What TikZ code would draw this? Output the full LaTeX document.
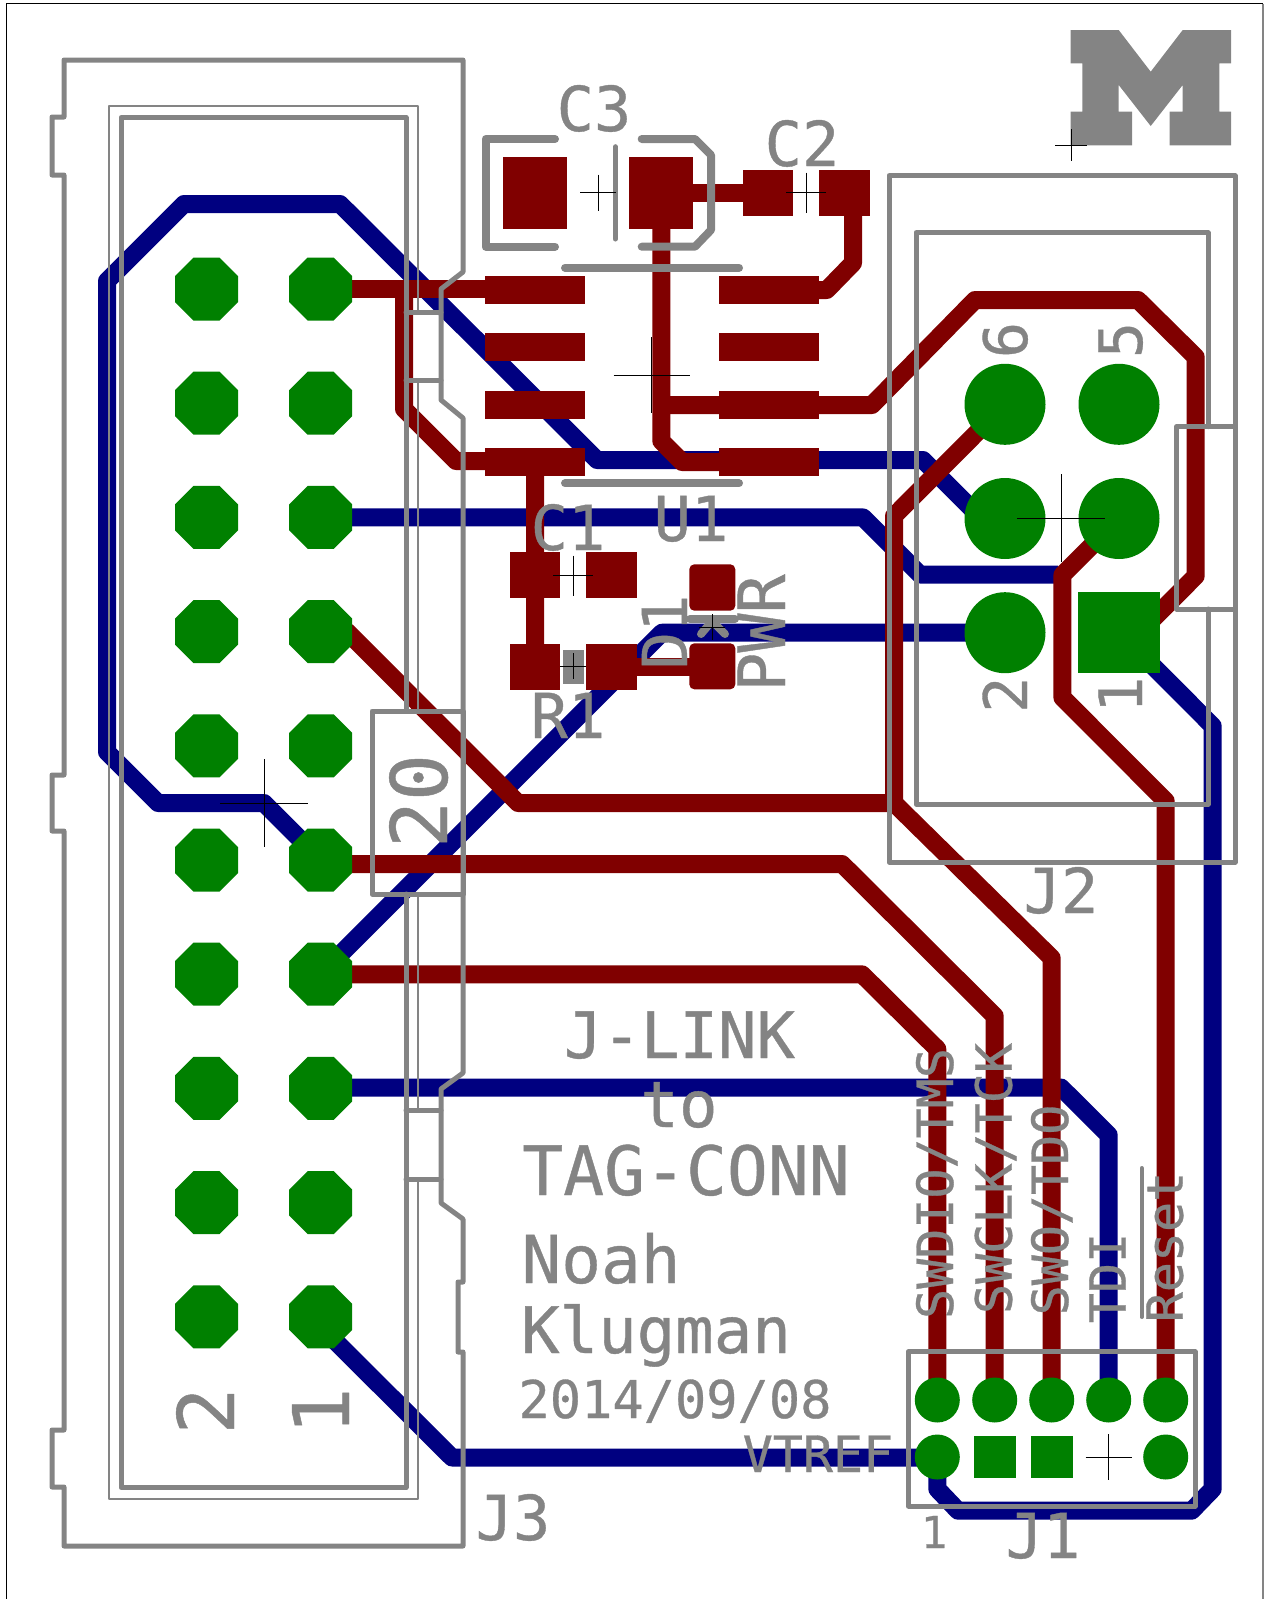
\documentclass[tikz,border=0pt]{standalone}
\usepackage{fontspec}
\newfontfamily\silkfont[FakeBold=0.6]{DejaVu Sans Mono}
\definecolor{bottomcu}{HTML}{000080}
\definecolor{topcu}{HTML}{800000}
\definecolor{padgreen}{HTML}{008000}
\definecolor{silkgray}{HTML}{848484}
\tikzset{
  bottomtrace/.style={draw=bottomcu,line width=18,line join=round},
  toptrace/.style={draw=topcu,line width=18,line join=round},
  silkline/.style={draw=silkgray,line width=#1,line join=round,line cap=round},
  silkline/.default=5,
  origin/.style={draw=black,line width=0.8},
  silktext/.style={text=silkgray,inner sep=0pt,anchor=base,font=\silkfont\fontsize{#1}{#1}\selectfont},
  silktext/.default=62
}
\begin{document}
\begin{tikzpicture}[x=1pt,y=-1pt]
   \useasboundingbox (0,0) rectangle (1264,1599);
   \draw[black,line width=1] (6.5,1599) -- (6.5,3.5) -- (1263,3.5);
   \draw[silkgray,line width=2] (1262.7,3.5) -- (1262.7,1599);
   % bottom copper
   \draw[bottomtrace] (1005,518) -- (981,518) -- (923,460) -- (597,460) -- (340,204) -- (184,204) -- (107,281) -- (107,752) -- (158,803) -- (264,803) -- (320.7,860);
   \draw[bottomtrace] (320.7,517.4) -- (863,517.4) -- (920,574.5) -- (1058,574.5);
   \draw[bottomtrace] (320.7,974) -- (662,632.7) -- (1005,632.7);
   \draw[bottomtrace] (320.7,1087.5) -- (1061,1087.5) -- (1108.7,1135) -- (1108.7,1400);
   \draw[bottomtrace] (311,1317) -- (452,1457.5) -- (937.3,1457.5) -- (937.3,1489) -- (958,1510.7) -- (1191.7,1510.7) -- (1212.7,1489) -- (1212.7,726) -- (1119,632);
   % top copper
   \draw[toptrace] (320.7,289) -- (535,289);
   \draw[toptrace] (404,289) -- (404,409) -- (456,461) -- (535,461) -- (535,667);
   \draw[toptrace] (661.3,193) -- (768,193);
   \draw[toptrace] (661.3,193) -- (661.3,441) -- (682,462) -- (770,462);
   \draw[toptrace] (661.3,405) -- (872,405) -- (975,300) -- (1138,300) -- (1195.7,357) -- (1195.7,576) -- (1150,622);
   \draw[toptrace] (844,193) -- (853,193) -- (853,263) -- (826.7,290) -- (770,290);
   \draw[toptrace] (320.7,631.6) -- (347,631.6) -- (518,803) -- (894,803);
   \draw[toptrace] (1005,404.3) -- (894,516) -- (894,803) -- (1051.7,958) -- (1051.7,1400);
   \draw[toptrace] (320.7,864) -- (842,864) -- (994.7,1016) -- (994.7,1400);
   \draw[toptrace] (320.7,974.3) -- (862,974.3) -- (937.3,1049) -- (937.3,1400);
   \draw[toptrace] (1165.7,1400) -- (1165.7,801) -- (1062.4,697.6) -- (1062.4,575) -- (1119,518.5);
   \draw[toptrace] (612,667) -- (712,667);
   % top pads
   \fill[topcu] (503,156.7) rectangle (567,229.3);
   \fill[topcu] (629,156.7) rectangle (693,229.3);
   \fill[topcu] (742.7,170) rectangle (793.3,215.7);
   \fill[topcu] (819,170) rectangle (869.7,215.7);
   \foreach \y in {290,347.2,404.5,461.5} {
     \fill[topcu] (485,\y-14) rectangle (585,\y+14);
     \fill[topcu] (719,\y-14) rectangle (819,\y+14);
   }
   \foreach \x in {535,611.3} {
     \fill[topcu] (\x-25.3,552.3) rectangle (\x+25.3,598.3);
     \fill[topcu] (\x-25.3,644) rectangle (\x+25.3,690);
   }
   \fill[topcu,rounded corners=5] (689.3,564.3) rectangle (735.3,610.7);
   \fill[topcu,rounded corners=5] (689.3,643.3) rectangle (735.3,689.3);
   % green pads
   \foreach \x in {206.5,320.7}
     \foreach \i in {0,...,9}
       \fill[padgreen] (\x,289+114.2*\i) ++(-31.5,-13) -- ++(0,26) -- ++(18.5,18.5) -- ++(26,0) -- ++(18.5,-18.5) -- ++(0,-26) -- ++(-18.5,-18.5) -- ++(-26,0) -- cycle;
   \foreach \x/\y in {1005/404.3,1119/404.3,1005/518.5,1119/518.5,1005/632.7}
     \fill[padgreen] (\x,\y) circle(40.5pt);
   \fill[padgreen] (1078.3,592.3) rectangle (1159.7,673);
   \foreach \x/\y in {937.3/1400,994.7/1400,1051.7/1400,1108.7/1400,1165.7/1400,937.3/1457,1165.7/1457}
     \fill[padgreen] (\x,\y) circle(22.5pt);
   \fill[padgreen] (974,1436) rectangle (1015.7,1477.5);
   \fill[padgreen] (1031,1436) rectangle (1072.7,1477.5);
   % J3 outline
   \draw[silkline] (64,60) -- (463,60) -- (463,272) -- (441,289) -- (441,400) -- (463,418) -- (463,1073) -- (441,1089) -- (441,1203) -- (463,1219) -- (463,1282) -- (458,1282) -- (458,1352) -- (463,1352) -- (463,1546) -- (64,1546) -- (64,1487) -- (52,1487) -- (52,1430) -- (64,1430) -- (64,831) -- (52,831) -- (52,775) -- (64,775) -- (64,175) -- (52,175) -- (52,117) -- (64,117) -- cycle;
   \draw[silkline=2] (418,313) -- (418,106) -- (109,106) -- (109,1499) -- (418,1499) -- (418,1179);
   \draw[silkline=2] (418,1110) -- (418,894);
   \draw[silkline=2] (418,711) -- (418,380);
   \draw[silkline] (406,711) -- (406,117.5) -- (121,117.5) -- (121,1487.7) -- (406,1487.7) -- (406,894);
   \draw[silkline] (406,312) -- (441,312);
   \draw[silkline] (406,380) -- (441,380);
   \draw[silkline] (406,1110) -- (441,1110);
   \draw[silkline] (406,1179) -- (441,1179);
   \draw[silkline] (372,711) rectangle (463,894);
   % J2 and J1 outlines
   \draw[silkline] (889,175.7) rectangle (1235,862);
   \draw[silkline] (1208,426.7) -- (1208,232.7) -- (916,232.7) -- (916,804) -- (1208,804) -- (1208,609);
   \draw[silkline] (1235,426.7) -- (1176.7,426.7) -- (1176.7,609) -- (1235,609);
   \draw[silkline] (908.3,1351.8) rectangle (1195,1506);
   \draw[silkline=4] (1141.7,1168) -- (1141.7,1317);
   % C3, U1, D1, R1
   \draw[silkline=8] (555,139) -- (485.7,139) -- (485.7,246.7) -- (555,246.7);
   \draw[silkline=8] (641.7,139) -- (695,139) -- (711,155) -- (711,230) -- (695,246.7) -- (641.7,246.7);
   \draw[silkline=5] (615.3,146.7) -- (615.3,239);
   \draw[silkline=8] (565,267.7) -- (739,267.7);
   \draw[silkline=8] (565,483.3) -- (739,483.3);
   \draw[silkline=8] (690,619) -- (735,619);
   \draw[silkline=8] (701,634) -- (712,621) -- (725,634);
   \fill[silkgray] (562.7,649.7) rectangle (584,684.3);
   % the M
   \fill[silkgray] (1070.7,30) -- (1118.7,30) -- (1150.7,71.7) -- (1182.7,30) -- (1231,30) -- (1231,63.3) -- (1219.3,63.3) -- (1219.3,111.7) -- (1231,111.7) -- (1231,145.3) -- (1169.7,145.3) -- (1169.7,111.7) -- (1182.7,111.7) -- (1182.7,85) -- (1150.7,126) -- (1118.7,85) -- (1118.7,111.7) -- (1132,111.7) -- (1132,145.3) -- (1070.7,145.3) -- (1070.7,111.7) -- (1082.3,111.7) -- (1082.3,63.3) -- (1070.7,63.3) -- cycle;
   % part names
   \node[silktext] (C3name) at (594,131) {C3};
   \node[silktext] (C2name) at (802,166) {C2};
   \node[silktext] (U1name) at (691,541) {U1};
   \node[silktext] (C1name) at (568,550) {C1};
   \node[silktext] (R1name) at (568,738) {R1};
   \node[silktext,rotate=90] (D1name) at (687,632) {D1};
   \node[silktext=65,rotate=90] (PWRname) at (785,633) {PWR};
   \node[silktext] (J3name) at (513,1540) {J3};
   \node[silktext] (J2name) at (1061,913) {J2};
   \node[silktext] (J1name) at (1043,1558) {J1};
   \node[silktext=44] (J1pin) at (934,1548) {1};
   \node[silktext=60,rotate=90] (J2six) at (1027,340) {6};
   \node[silktext=60,rotate=90] (J2five) at (1142,340) {5};
   \node[silktext=60,rotate=90] (J2two) at (1027,694.7) {2};
   \node[silktext=60,rotate=90] (J2one) at (1142,694.7) {1};
   \node[silktext=78,rotate=90] (J3two) at (234,1411) {2};
   \node[silktext=78,rotate=90] (J3one) at (349,1411) {1};
   \node[silktext=78,rotate=90] (J3twenty) at (447,801) {20};
   % board text
   \node[silktext=64] (jlink) at (679.5,1058) {J-LINK};
   \node[silktext=64] (to) at (679,1127) {to};
   \node[silktext=68] (tagconn) at (686,1195) {TAG-CONN};
   \node[silktext=66] (noah) at (601,1283) {Noah};
   \node[silktext=64] (klugman) at (656,1353) {Klugman};
   \node[silktext=52] (date) at (675,1418) {2014/09/08};
   \node[silktext=50] (vtref) at (818,1472) {VTREF};
   \node[silktext=50,rotate=90] (swdio) at (953,1183.5) {SWDIO/TMS};
   \node[silktext=50,rotate=90] (swclk) at (1011.7,1178.5) {SWCLK/TCK};
   \node[silktext=50,rotate=90] (swo) at (1068,1210) {SWO/TDO};
   \node[silktext=50,rotate=90] (tdi) at (1125.7,1278) {TDI};
   \node[silktext=50,rotate=90] (reset) at (1182.7,1247) {Reset};
   % origins
   \foreach \x/\y/\r in {598.3/192.7/18,806/192.7/20,651.7/375/38,573/575.7/20,573/666/13,712/627/13,1061/518/44,1108.7/1457/23,264/803/44,1071/145/16}
     \draw[origin] (\x-\r,\y) -- (\x+\r,\y) (\x,\y-\r) -- (\x,\y+\r);
\end{tikzpicture}
\end{document}
